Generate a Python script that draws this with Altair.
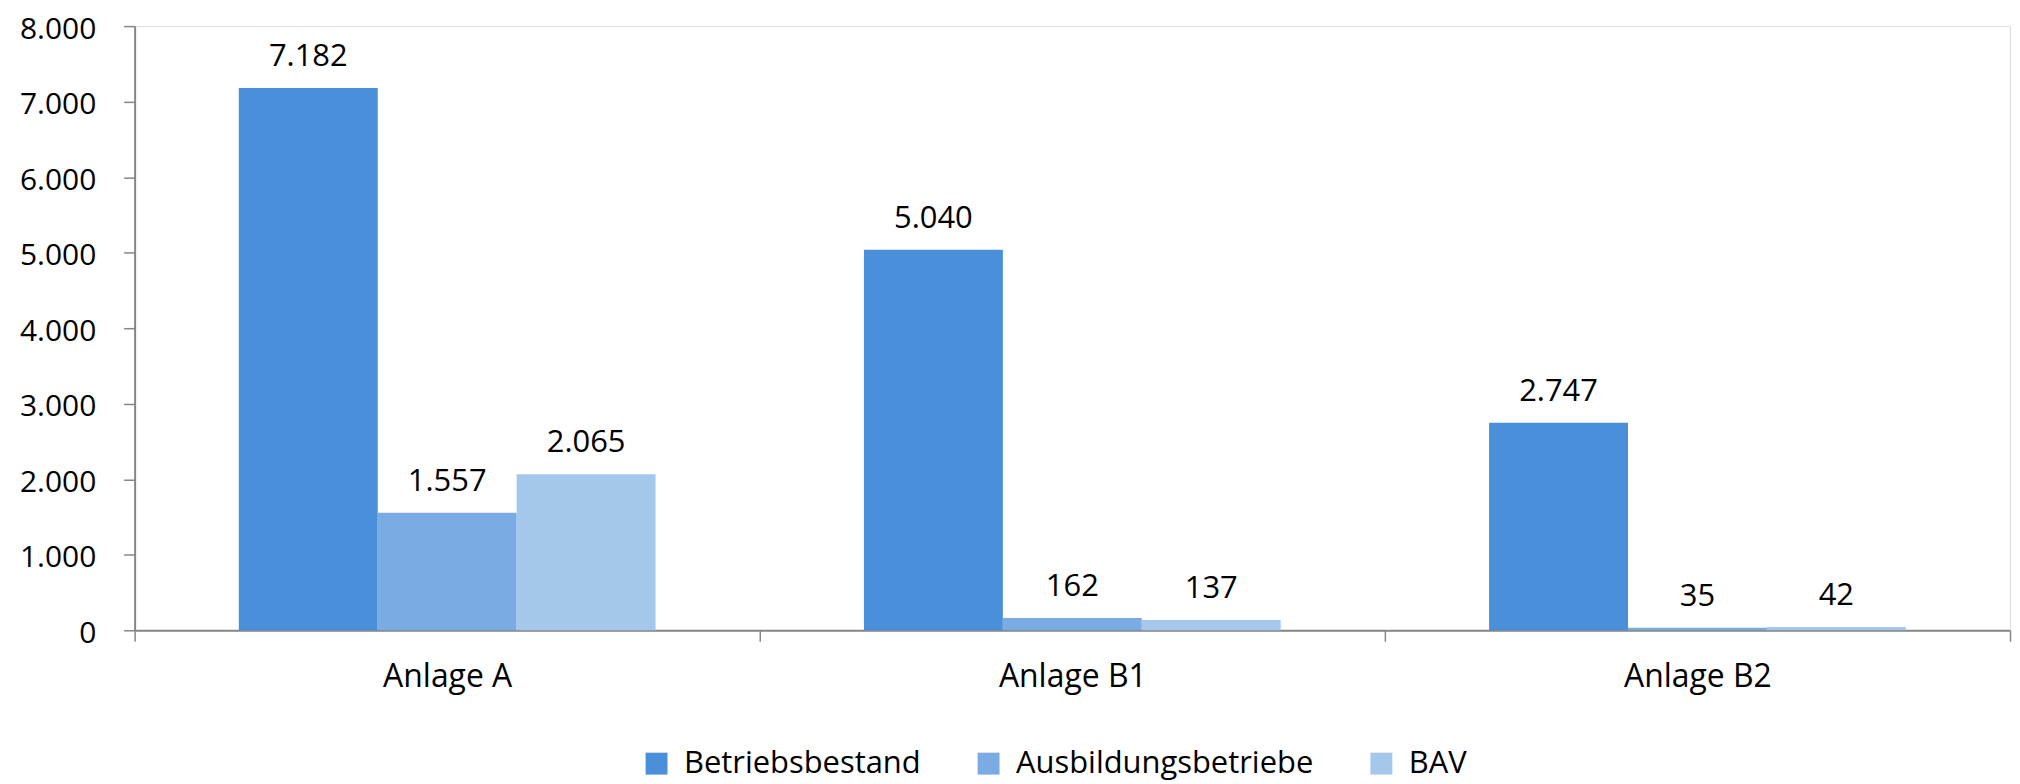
import altair as alt
import pandas as pd

categories = ["Anlage A", "Anlage B1", "Anlage B2"]
series = ["Betriebsbestand", "Ausbildungsbetriebe", "BAV"]
betriebsbestand = [7182, 5040, 2747]
ausbildungsbetriebe = [1557, 162, 35]
bav = [2065, 137, 42]
colors = ["#4a8fda", "#7aabe2", "#a6c7ec"]
y_ticks = [0, 1000, 2000, 3000, 4000, 5000, 6000, 7000, 8000]

rows = []
for s, vals in zip(series, [betriebsbestand, ausbildungsbetriebe, bav]):
    for c, v in zip(categories, vals):
        rows.append({"Anlage": c, "Serie": s, "Wert": v})
df = pd.DataFrame(rows)

FONT = "Open Sans"
GREY = "#868686"

x_enc = alt.X(
    "Anlage:N",
    sort=categories,
    scale=alt.Scale(paddingInner=0, paddingOuter=0),
    axis=alt.Axis(
        title=None,
        labelAngle=0,
        labelFont=FONT,
        labelFontSize=32,
        labelColor="#000000",
        labelPadding=20,
        tickBand="extent",
        tickSize=11,
        tickColor=GREY,
        tickWidth=1.5,
        domainColor=GREY,
        domainWidth=2,
    ),
)
xoff_enc = alt.XOffset(
    "Serie:N",
    sort=series,
    scale=alt.Scale(paddingInner=0, paddingOuter=0.75),
)
y_enc = alt.Y(
    "Wert:Q",
    scale=alt.Scale(domain=[0, 8000], nice=False),
    axis=alt.Axis(
        title=None,
        values=y_ticks,
        labelExpr="replace(format(datum.value, ','), ',', '.')",
        labelFont=FONT,
        labelFontSize=30,
        labelColor="#000000",
        labelPadding=28,
        labelOffset=3,
        tickSize=11,
        tickColor=GREY,
        tickWidth=1.5,
        domainColor=GREY,
        domainWidth=2,
        grid=False,
    ),
)
color_enc = alt.Color(
    "Serie:N",
    sort=series,
    scale=alt.Scale(domain=series, range=colors),
    legend=alt.Legend(
        title=None,
        orient="none",
        direction="horizontal",
        legendX=508,
        legendY=724,
        symbolType="square",
        symbolSize=484,
        symbolStrokeWidth=0,
        labelFont=FONT,
        labelFontSize=31,
        labelColor="#000000",
        labelOffset=12,
        labelLimit=0,
        columnPadding=52,
    ),
)

bars = alt.Chart(df).mark_bar(strokeWidth=0).encode(
    x=x_enc, xOffset=xoff_enc, y=y_enc, color=color_enc
)

labels = (
    alt.Chart(df)
    .transform_calculate(label="replace(format(datum.Wert, ','), ',', '.')")
    .mark_text(font=FONT, fontSize=31, color="#000000", baseline="alphabetic", dy=-22)
    .encode(
        x=alt.X("Anlage:N", sort=categories),
        xOffset=alt.XOffset("Serie:N", sort=series),
        y=alt.Y("Wert:Q"),
        text="label:N",
    )
)

chart = (
    alt.layer(bars, labels)
    .properties(
        width=1881,
        height=606,
        autosize=alt.AutoSizeParams(type="none"),
        padding={"left": 127, "top": 17, "right": 2, "bottom": 150},
    )
    .configure_view(stroke=None)
    .configure(font=FONT)
)

chart.save("out.html", embed_options={"renderer": "svg", "actions": False})
